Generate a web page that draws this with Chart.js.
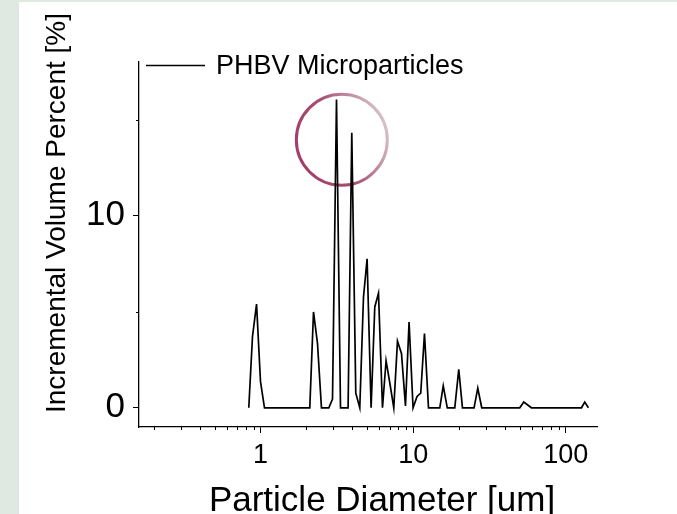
<!DOCTYPE html>
<html>
<head>
<meta charset="utf-8">
<script src="https://cdn.jsdelivr.net/npm/chart.js@4/dist/chart.umd.min.js"></script>
<style>
  html, body { margin: 0; padding: 0; }
  body { width: 677px; height: 514px; background: #e0e9e1; position: relative; overflow: hidden; }
  #psd-chart { position: absolute; left: 19px; top: 2px; background: #fff; }
</style>
</head>
<body>
<canvas id="psd-chart" width="658" height="512"></canvas>
<script>
// particle size distribution
const diameters = [0.838, 0.886, 0.942, 1.0, 1.062, 2.103, 2.224, 2.362, 2.508, 2.802,
    2.962, 3.146, 3.342, 3.747, 3.962, 4.208, 4.47, 4.727, 4.991, 5.302,
    5.605, 5.927, 6.295, 6.646, 7.062, 7.464, 7.892, 8.383, 8.904, 9.4,
    9.984, 10.6, 11.21, 11.86, 12.6, 14.94, 15.74, 16.73, 18.73, 19.89,
    21.03, 25.05, 26.49, 28.13, 49.9, 53.02, 59.53, 126.6, 133.0, 140.6];
const volumePercent = [0, 3.7, 5.4, 1.36, 0, 0, 4.99, 3.35, 0, 0,
    0.45, 16.05, 0, 0, 14.32, 0.76, 0, 5.77, 7.76, 0,
    5.25, 5.97, 0, 2.45, 1.2, 0, 3.47, 2.83, 0.1, 4.47,
    0, 0.59, 0.76, 3.87, 0, 0, 1.14, 0, 0, 2.0,
    0, 0, 1.02, 0, 0, 0.3, 0, 0, 0.3, 0];

const xTickValues = [0.2, 0.3, 0.4, 0.5, 0.6, 0.7, 0.8, 0.9, 1, 2, 3, 4, 5, 6, 7, 8, 9,
    10, 20, 30, 40, 50, 60, 70, 80, 90, 100];
const xTickLabels = [1, 10, 100];
const yTickValues = [0, 5, 10, 15];
const yTickLabels = [0, 10];

const seriesLabel = 'PHBV Microparticles';
const xTitle = 'Particle Diameter [um]';
const yTitle = 'Incremental Volume Percent [%]';
const highlightAt = { x: 3.41, y: 13.95 };   // circled main peaks

const FONT = '"Liberation Sans", Arial, Helvetica, sans-serif';

const minorTicks = {
    id: 'minorTicks',
    afterDraw(chart) {
        const { ctx, chartArea, scales: { x, y } } = chart;
        ctx.save();
        ctx.strokeStyle = '#000';
        ctx.lineWidth = 1;
        x.ticks.forEach(t => {
            if (xTickLabels.includes(t.value)) return;
            const px = Math.round(x.getPixelForValue(t.value)) + 0.5;
            ctx.beginPath();
            ctx.moveTo(px, chartArea.bottom);
            ctx.lineTo(px, chartArea.bottom + 3);
            ctx.stroke();
        });
        y.ticks.forEach(t => {
            if (yTickLabels.includes(t.value)) return;
            const py = Math.round(y.getPixelForValue(t.value)) + 0.5;
            ctx.beginPath();
            ctx.moveTo(chartArea.left, py);
            ctx.lineTo(chartArea.left - 3, py);
            ctx.stroke();
        });
        ctx.restore();
    }
};

const highlight = {
    id: 'highlight',
    beforeDatasetsDraw(chart) {
        const { ctx, scales: { x, y } } = chart;
        const cx = x.getPixelForValue(highlightAt.x);
        const cy = y.getPixelForValue(highlightAt.y);
        const r = 45.5;
        const g = ctx.createLinearGradient(cx - r, cy + r * 0.4, cx + r, cy - r * 0.4);
        g.addColorStop(0, 'rgb(162,62,104)');
        g.addColorStop(0.45, 'rgb(168,76,114)');
        g.addColorStop(1, 'rgb(216,198,204)');
        ctx.save();
        ctx.strokeStyle = g;
        ctx.lineWidth = 3;
        ctx.beginPath();
        ctx.arc(cx, cy, r, 0, Math.PI * 2);
        ctx.stroke();
        ctx.restore();
    }
};

const labels = {
    id: 'labels',
    afterDraw(chart) {
        const { ctx, chartArea } = chart;
        ctx.save();
        ctx.fillStyle = '#000';
        ctx.strokeStyle = '#000';

        // legend
        ctx.lineWidth = 1.5;
        ctx.beginPath();
        ctx.moveTo(chartArea.left + 7, chartArea.top + 3.5);
        ctx.lineTo(chartArea.left + 66, chartArea.top + 3.5);
        ctx.stroke();
        ctx.font = `27px ${FONT}`;
        ctx.textAlign = 'left';
        ctx.textBaseline = 'middle';
        ctx.fillText(seriesLabel, chartArea.left + 77, chartArea.top + 5);

        // axis titles
        ctx.textAlign = 'center';
        ctx.font = `35px ${FONT}`;
        ctx.fillText(xTitle, chartArea.left + 243, chartArea.bottom + 74);
        ctx.translate(38, chartArea.top + 151);
        ctx.rotate(-Math.PI / 2);
        ctx.font = `28px ${FONT}`;
        ctx.fillText(yTitle, 0, 0);
        ctx.restore();
    }
};

const ctx = document.getElementById('psd-chart').getContext('2d');
new Chart(ctx, {
    type: 'line',
    data: {
        datasets: [{
            label: seriesLabel,
            data: diameters.map((d, i) => ({ x: d, y: volumePercent[i] })),
            borderColor: '#000',
            borderWidth: 1.7,
            pointRadius: 0,
            tension: 0,
            fill: false
        }]
    },
    options: {
        responsive: false,
        animation: false,
        layout: { padding: { top: 60, right: 80, left: 0, bottom: 0 } },
        plugins: { legend: { display: false }, tooltip: { enabled: false } },
        scales: {
            x: {
                type: 'logarithmic',
                min: 0.16,
                max: 160,
                afterBuildTicks: s => { s.ticks = xTickValues.map(v => ({ value: v })); },
                afterFit: s => { s.height = 87; },
                border: { color: '#000', width: 1.3 },
                grid: {
                    drawOnChartArea: false,
                    tickLength: 6,
                    tickWidth: 1,
                    tickColor: c => xTickLabels.includes(c.tick && c.tick.value) ? '#000' : 'rgba(0,0,0,0)'
                },
                ticks: {
                    autoSkip: false,
                    maxRotation: 0,
                    minRotation: 0,
                    padding: 6,
                    color: '#000',
                    font: { family: FONT, size: 27 },
                    callback: v => xTickLabels.includes(v) ? String(v) : ''
                }
            },
            y: {
                type: 'linear',
                min: -1,
                max: 18,
                afterBuildTicks: s => { s.ticks = yTickValues.map(v => ({ value: v })); },
                afterFit: s => { s.width = 120; },
                border: { color: '#000', width: 1.3 },
                grid: {
                    drawOnChartArea: false,
                    tickLength: 6,
                    tickWidth: 1,
                    tickColor: c => yTickLabels.includes(c.tick && c.tick.value) ? '#000' : 'rgba(0,0,0,0)'
                },
                ticks: {
                    autoSkip: false,
                    padding: 8,
                    color: '#000',
                    font: { family: FONT, size: 35 },
                    callback: v => yTickLabels.includes(v) ? String(v) : ''
                }
            }
        }
    },
    plugins: [highlight, minorTicks, labels]
});
</script>
</body>
</html>
